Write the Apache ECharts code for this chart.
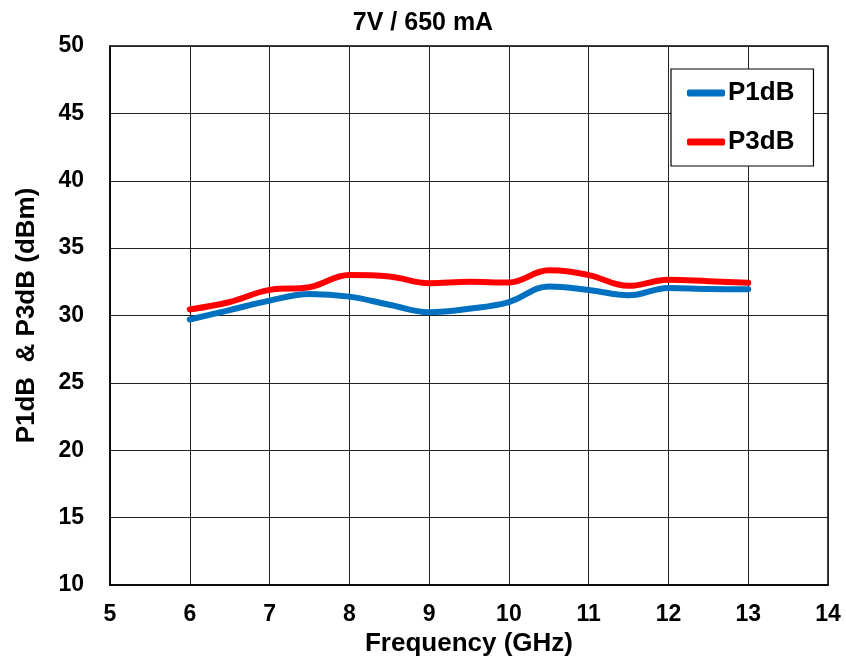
<!DOCTYPE html>
<html>
<head>
<meta charset="utf-8">
<script src="https://cdn.jsdelivr.net/npm/echarts@6/dist/echarts.min.js"></script>
<style>
html,body{margin:0;padding:0;background:#fff;}
#chart{width:846px;height:669px;}
</style>
</head>
<body>
<div id="chart"></div>
<script>
const freq = [6, 6.5, 7, 7.5, 8, 8.5, 9, 9.5, 10, 10.5, 11, 11.5, 12, 12.5, 13];
const p1dB = [29.7, 30.4, 31.1, 31.6, 31.4, 30.8, 30.25, 30.5, 31.0, 32.15, 31.9, 31.5, 32.05, 31.97, 31.95];
const p3dB = [30.45, 31.0, 31.9, 32.1, 33.0, 32.9, 32.4, 32.5, 32.45, 33.35, 33.0, 32.2, 32.65, 32.55, 32.43];
const seriesNames = ['P1dB', 'P3dB'];
const titleText = '7V / 650 mA';
const xName = 'Frequency (GHz)';
const yName = 'P1dB  & P3dB (dBm)';

const FONT = '"Liberation Sans", Arial, sans-serif';
const chart = echarts.init(document.getElementById('chart'), null, {renderer: 'canvas'});
const pair = (xs, ys) => xs.map((x, i) => [x, ys[i]]);

chart.setOption({
  animation: false,
  backgroundColor: '#fff',
  title: {
    text: titleText, left: 'center', top: 6,
    textStyle: {fontFamily: FONT, fontWeight: 'bold', fontSize: 25, color: '#000'}
  },
  grid: {left: 110, right: 18, top: 46, bottom: 84, show: true, borderColor: '#000', borderWidth: 1.5},
  legend: {
    left: 671, top: 69, orient: 'vertical',
    backgroundColor: '#fff', borderColor: '#000', borderWidth: 1.2,
    padding: [9, 19, 9, 16], itemGap: 19,
    icon: 'roundRect', itemWidth: 38, itemHeight: 7,
    textStyle: {fontFamily: FONT, fontWeight: 'bold', fontSize: 26, color: '#000', lineHeight: 30, padding: [0,0,0,-2]},
    data: seriesNames
  },
  xAxis: {
    type: 'value', min: 5, max: 14, interval: 1,
    name: xName, nameLocation: 'middle', nameGap: 38,
    nameTextStyle: {fontFamily: FONT, fontWeight: 'bold', fontSize: 26, color: '#000'},
    axisLine: {show: true, lineStyle: {color: '#000', width: 1.5}},
    axisTick: {show: false},
    axisLabel: {fontFamily: FONT, fontWeight: 'bold', fontSize: 23, color: '#000', margin: 18},
    splitLine: {show: true, lineStyle: {color: '#222', width: 1}}
  },
  yAxis: {
    type: 'value', min: 10, max: 50, interval: 5,
    name: yName, nameLocation: 'middle', nameGap: 70,
    nameTextStyle: {fontFamily: FONT, fontWeight: 'bold', fontSize: 26, color: '#000'},
    axisLine: {show: true, lineStyle: {color: '#000', width: 1.5}},
    axisTick: {show: false},
    axisLabel: {fontFamily: FONT, fontWeight: 'bold', fontSize: 23, color: '#000', margin: 26},
    splitLine: {show: true, lineStyle: {color: '#222', width: 1}}
  },
  series: [
    {name: seriesNames[0], type: 'line', data: pair(freq, p1dB), smooth: 0.4, symbol: 'none',
     lineStyle: {color: '#0070C0', width: 6, cap: 'round'}, itemStyle: {color: '#0070C0'}},
    {name: seriesNames[1], type: 'line', data: pair(freq, p3dB), smooth: 0.4, symbol: 'none',
     lineStyle: {color: '#FF0000', width: 6, cap: 'round'}, itemStyle: {color: '#FF0000'}}
  ]
});
</script>
</body>
</html>
